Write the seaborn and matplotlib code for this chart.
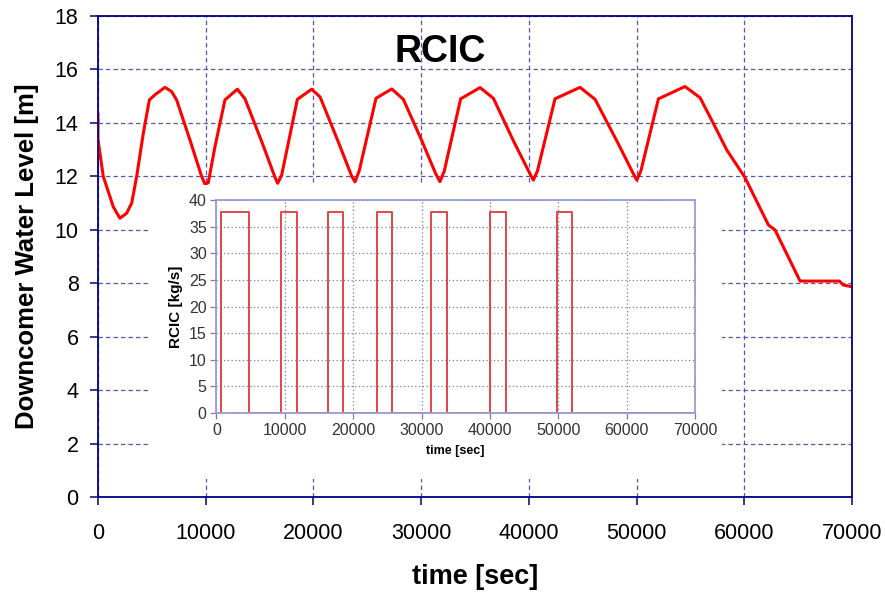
import matplotlib
matplotlib.use("Agg")
import matplotlib.pyplot as plt
import seaborn as sns
import numpy as np
import pandas as pd
from matplotlib.patches import Rectangle

# main curve: downcomer water level vs time
time_s = [0, 0, 30, 490, 1420, 2040, 2660, 3130, 3590, 4210, 4770, 5290, 6220, 6840, 7300,
          8540, 9630, 9935, 10240, 10860, 11790, 12940, 13650, 15200, 16400, 16680,
          17050, 18510, 19840, 20620, 22300, 23560, 23860,
          24250, 25810, 27270, 28350, 30100, 31350, 31750,
          32150, 33670, 35470, 36710, 38600, 40100, 40420,
          40800, 42430, 44750, 46150, 48200, 49700, 50020,
          50400, 52030, 54500, 55900, 57130, 58370, 60070, 62240, 62860, 65180,
          68830, 69200, 70000]
level_m = [14.35, 13.3, 13.3, 12.0, 10.86, 10.43, 10.62, 11.0, 11.99, 13.61, 14.86, 15.05, 15.33, 15.17, 14.86,
           13.36, 11.99, 11.71, 11.76, 13.11, 14.86, 15.26, 14.9, 13.3, 12.0, 11.74,
           12.04, 14.88, 15.26, 14.97, 13.3, 12.0, 11.79,
           12.2, 14.92, 15.27, 14.88, 13.3, 12.1, 11.80,
           12.2, 14.9, 15.32, 14.92, 13.3, 12.1, 11.86,
           12.2, 14.9, 15.33, 14.88, 13.3, 12.1, 11.86,
           12.2, 14.9, 15.36, 14.94, 13.98, 12.99, 11.95, 10.18, 9.99, 8.08,
           8.08, 7.93, 7.87]

# inset: RCIC flow pulses
pulse_on = [630, 9500, 16280, 23420, 31400, 40060, 49870]
pulse_off = [4700, 11740, 18520, 25670, 33650, 42300, 51960]
pulse_level = 37.8

main_df = pd.DataFrame({"t": time_s, "level": level_m})

step_t, step_q = [0], [0]
for on, off in zip(pulse_on, pulse_off):
    step_t += [on, on, off, off]
    step_q += [0, pulse_level, pulse_level, 0]
step_t.append(70000)
step_q.append(0)
rcic_df = pd.DataFrame({"t": step_t, "q": step_q})

sns.set_theme(style="white")
plt.rcParams["font.family"] = ["Liberation Sans", "DejaVu Sans"]
plt.rcParams["text.color"] = "black"
plt.rcParams["axes.labelcolor"] = "black"

navy = "#000080"
fig = plt.figure(figsize=(8.85, 5.94), dpi=100)
ax = fig.add_axes([0.1107, 0.1633, 0.852, 0.8098])

sns.lineplot(data=main_df, x="t", y="level", ax=ax, color="#ff0000", lw=2.2,
             sort=False, estimator=None)
ax.set_xlim(0, 70000)
ax.set_ylim(0, 18)
ax.set_xticks(np.arange(0, 70001, 10000))
ax.set_yticks(np.arange(0, 19, 2))
ax.grid(True, linestyle=(0, (3.5, 2.5)), color="#5555aa", lw=0.9)
for s in ax.spines.values():
    s.set_color(navy)
    s.set_linewidth(1.3)
ax.tick_params(axis="both", direction="out", length=6, width=1.1, color=navy,
               labelsize=15.5, labelcolor="black", bottom=True, left=True)
ax.tick_params(axis="x", pad=13)
ax.tick_params(axis="y", pad=8)
ax.set_xlabel("time [sec]", fontsize=19.5, fontweight="bold", labelpad=14)
ax.set_ylabel("Downcomer Water Level [m]", fontsize=18.5, fontweight="bold", labelpad=11)
ax.text(31750, 16.65, "RCIC", ha="center", va="center", fontsize=27, fontweight="bold",
        color="black")

# white panel behind the inset
fig.add_artist(Rectangle((0.1695, 0.1936), 0.6463, 0.4949, transform=fig.transFigure,
                         facecolor="white", edgecolor="none", zorder=1))

ins = fig.add_axes([0.2446, 0.3047, 0.5407, 0.3586])
ins.set_zorder(2)
sns.lineplot(data=rcic_df, x="t", y="q", ax=ins, color="#e04848", lw=1.4,
             sort=False, estimator=None)
ins.set_xlim(0, 70000)
ins.set_ylim(0, 40)
ins.set_xticks(np.arange(0, 70001, 10000))
ins.set_yticks(np.arange(0, 41, 5))
ins.grid(True, linestyle=(0, (1, 2)), color="#7878bb", lw=0.9)
for s in ins.spines.values():
    s.set_color("#9a9ad0")
    s.set_linewidth(1.3)
ins.tick_params(axis="both", direction="out", length=4, width=0.9, color="#7a7aa8",
                labelsize=11.5, labelcolor="#333333", pad=3, bottom=True, left=True)
ins.set_xlabel("time [sec]", fontsize=9, fontweight="bold", labelpad=5)
ins.set_ylabel("RCIC [kg/s]", fontsize=11, fontweight="bold", labelpad=4)

fig.savefig("out.png", dpi=100)
